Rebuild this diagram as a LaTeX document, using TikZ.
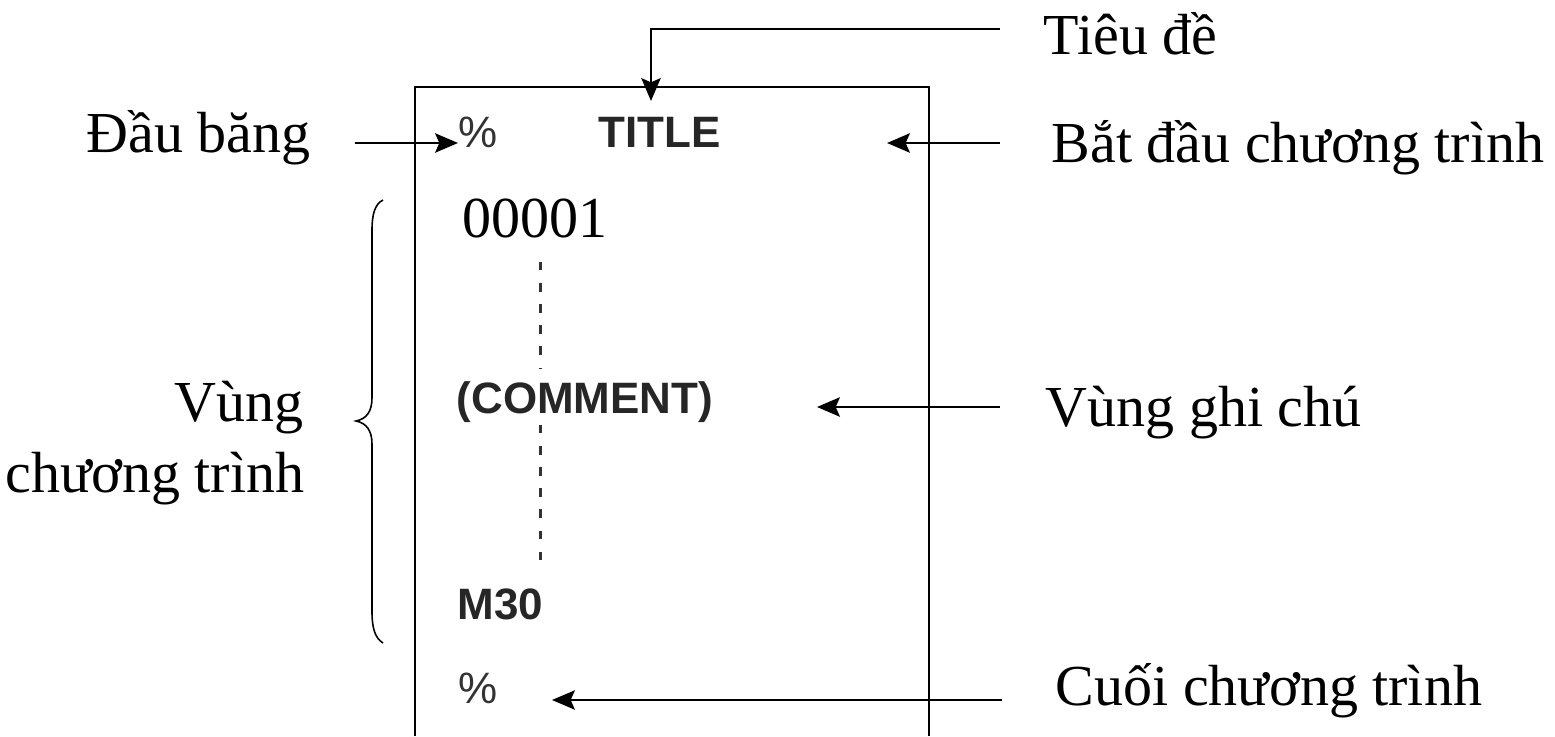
\documentclass[tikz,border=0pt]{standalone}
\usepackage{fontspec}
\setmainfont{Liberation Serif}
\setsansfont{Liberation Sans}
\usetikzlibrary{arrows.meta}
\tikzset{
  lbl/.style={inner sep=0pt, font=\fontsize{16.5pt}{19pt}\selectfont},
  code/.style={inner sep=0pt, font=\sffamily\bfseries\fontsize{12.5pt}{15pt}\selectfont, text=black!85},
  pct/.style={inner sep=0pt, font=\sffamily\fontsize{12.5pt}{15pt}\selectfont, text=black!80},
  frame/.style={line width=0.75pt},
  arr/.style={line width=0.7pt, -{Stealth[length=6.5pt,width=5.5pt,inset=1.2pt]}},
  bracestyle/.style={line width=0.45pt},
  dash line/.style={line width=0.85pt, black!80, dash pattern=on 2.4pt off 3.6pt}
}
\begin{document}
\begin{tikzpicture}[x=0.01cm,y=-0.01cm]
\useasboundingbox (0,0) rectangle (1555,736);
% frame
\draw[frame] (415,736) -- (415,87) -- (929,87) -- (929,736);
% labels
\node[lbl, anchor=base west] (tieude) at (1043,54) {Tiêu đề};
\node[lbl, anchor=base west] (batdau) at (1051,162) {Bắt đầu chương trình};
\node[lbl, anchor=base west] (daubang) at (86,152) {Đầu băng};
\node[lbl, anchor=base east] (vung) at (304,421) {Vùng};
\node[lbl, anchor=base east] (chuongtrinh) at (305,492) {chương trình};
\node[lbl, anchor=base west] (ghichu) at (1045,426) {Vùng ghi chú};
\node[lbl, anchor=base west] (cuoi) at (1055,705) {Cuối chương trình};
% program text
\node[pct, anchor=base west] (pct1) at (458,147) {\%};
\node[code, anchor=base west] (title) at (598,147) {TITLE};
\node[lbl, anchor=base west] (num) at (462,237) {00001};
\node[code, anchor=base west] (comment) at (456,413) {(COMMENT)};
\node[code, anchor=base west] (m30) at (457,619) {M30};
\node[pct, anchor=base west] (pct2) at (458,703) {\%};
% dashed continuation
\draw[dash line] (540,262) -- (540,368);
\draw[dash line] (540,425) -- (540,572);
% brace
\draw[bracestyle] (383,200) .. controls (375,204) and (372,214) .. (372,230) -- (372,398)
  .. controls (372,412) and (366,419) .. (356,421)
  .. controls (366,423) and (372,430) .. (372,444) -- (372,612)
  .. controls (372,628) and (375,638) .. (383,643);
% arrow anchors
\coordinate (s1) at (1000,29);
\coordinate (k1) at (651,29);
\coordinate (t1) at (651,101);
\coordinate (s2) at (355,143);
\coordinate (t2) at (458,143);
\coordinate (s3) at (1000,143);
\coordinate (t3) at (887,143);
\coordinate (s4) at (1000,407);
\coordinate (t4) at (817,407);
\coordinate (s5) at (1002,700);
\coordinate (t5) at (552,700);
\draw[arr] (s1) -- (k1) -- (t1);
\draw[arr] (s2) -- (t2);
\draw[arr] (s3) -- (t3);
\draw[arr] (s4) -- (t4);
\draw[arr] (s5) -- (t5);
\end{tikzpicture}
\end{document}
